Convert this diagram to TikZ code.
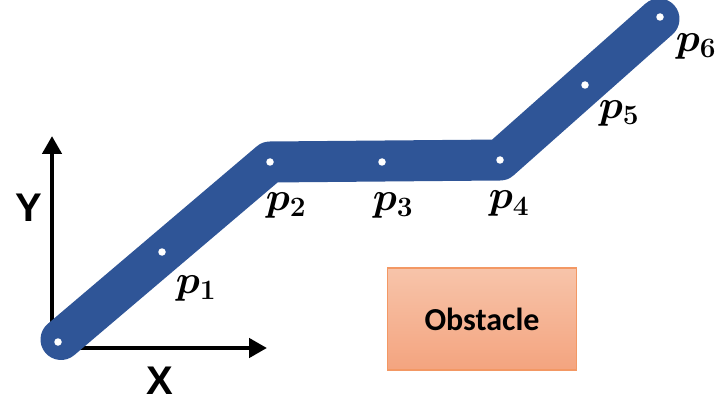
\documentclass[tikz,border=0pt]{standalone}
\usepackage{fix-cm}
\usepackage{fontspec}
\usepackage{amsmath,bm}
\setsansfont{Liberation Sans}
\newfontfamily\carl{Carlito}
\usetikzlibrary{arrows.meta}
\definecolor{band}{RGB}{47,85,151}
\definecolor{obsTop}{RGB}{247,196,170}
\definecolor{obsBot}{RGB}{244,164,127}
\definecolor{obsEdge}{RGB}{243,152,100}
\tikzset{
  axis/.style={line width=4.5pt, -{Triangle[length=18pt,width=19pt]}},
  axislabel/.style={font=\fontsize{40}{40}\selectfont\sffamily\bfseries},
  plabel/.style={font=\fontsize{40}{42}\selectfont\boldmath, inner sep=0pt},
  joint/.style={circle, fill=white, minimum size=7.5pt, inner sep=0pt},
  arm/.style={line width=41pt, draw=band, line cap=round, line join=round},
  obstacle/.style={draw=obsEdge, line width=1.2pt, top color=obsTop, bottom color=obsBot, minimum width=189pt, minimum height=102pt, inner sep=0pt, font=\fontsize{32}{32}\selectfont\carl\bfseries}
}
\begin{document}
\begin{tikzpicture}[x=1pt,y=-1pt]
\useasboundingbox (0,0) rectangle (719,403);
% axes
\coordinate (o) at (52,348);
\coordinate (ytip) at (52,136);
\coordinate (xtip) at (267,348);
\draw[axis] (o) -- (ytip);
\draw[axis] (o) -- (xtip);
\node[axislabel] (ylab) at (29,208) {Y};
\node[axislabel] (xlab) at (160,381) {X};
% arm points
\coordinate (p0) at (58,342);
\coordinate (p1) at (162,252);
\coordinate (p2) at (270,162);
\coordinate (p3) at (382,162);
\coordinate (p4) at (500,160);
\coordinate (p5) at (585,85);
\coordinate (p6) at (660,17);
\coordinate (a0) at (61,339.5);
\coordinate (a6) at (659,19);
\draw[arm] (a0) -- (p2) -- (p4) -- (a6);
\foreach \n in {0,...,6} \node[joint] (j\n) at (p\n) {};
% labels
\node[plabel] (l1) at (196,288) {$p_{1}$};
\node[plabel] (l2) at (286,206) {$p_{2}$};
\node[plabel] (l3) at (393,206) {$p_{3}$};
\node[plabel] (l4) at (509,204) {$p_{4}$};
\node[plabel] (l5) at (619,114) {$p_{5}$};
\node[plabel] (l6) at (696,47) {$p_{6}$};
% obstacle
\node[obstacle] (obs) at (482,319) {Obstacle};
\end{tikzpicture}
\end{document}
